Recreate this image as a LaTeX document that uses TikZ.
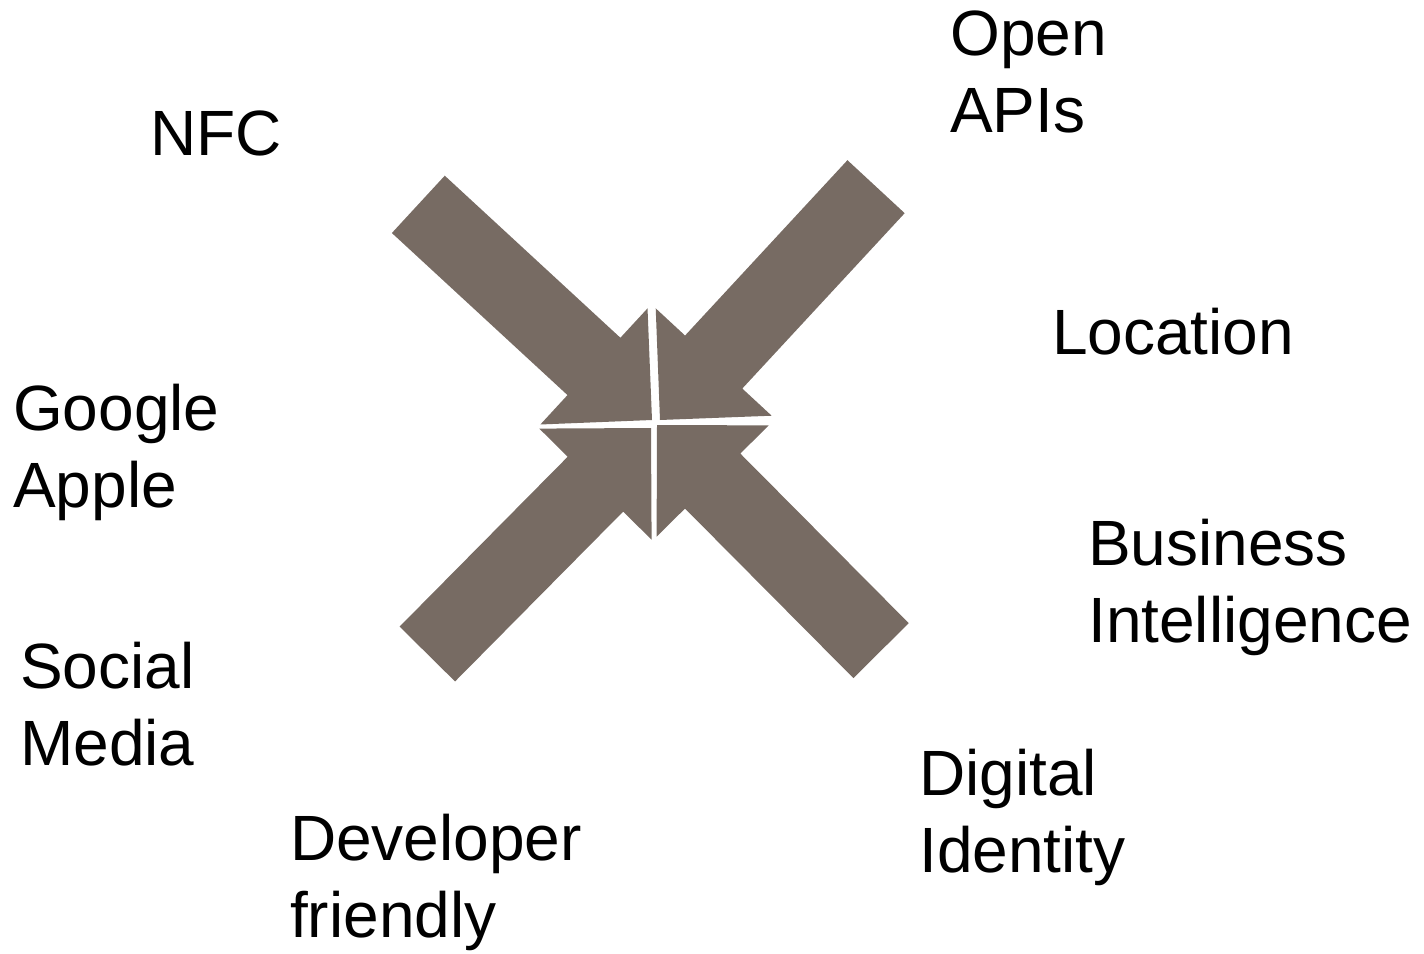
\documentclass[tikz,border=0pt]{standalone}
\usepackage{fontspec}
\setmainfont{Liberation Sans}
\usepackage{tikz}
\definecolor{arrowgray}{RGB}{119,107,99}

\begin{document}
\begin{tikzpicture}[x=1pt, y=-1pt,
    lbl/.style={anchor=base west, inner sep=0pt, align=left,
                font=\fontsize{64}{76.5}\selectfont},
    bigarrow/.style={fill=arrowgray}]

\useasboundingbox (0,0) rectangle (1424,953);

% four arrows pointing at the middle
\foreach \tx/\ty/\ang in {652/420/-42.7, 660/420/-132.8, 651/428/45.3, 657/425/134.8}
  \fill[bigarrow, shift={(\tx,\ty)}, rotate=\ang]
    (0,0) -- (-79,79) -- (-79,39) -- (-318,39) -- (-318,-39) -- (-79,-39) -- (-79,-79) -- cycle;

% labels (base = last line)
\node[lbl] (nfc) at (150,155) {NFC};
\node[lbl] (apis) at (950,132) {Open\\APIs};
\node[lbl] (location) at (1052,354) {Location};
\node[lbl] (google) at (13,507) {Google\\Apple};
\node[lbl] (business) at (1088,642) {Business\\Intelligence};
\node[lbl] (social) at (20,765) {Social\\Media};
\node[lbl] (identity) at (919,872) {Digital\\Identity};
\node[lbl] (developer) at (290,937) {Developer\\friendly};

\end{tikzpicture}
\end{document}
